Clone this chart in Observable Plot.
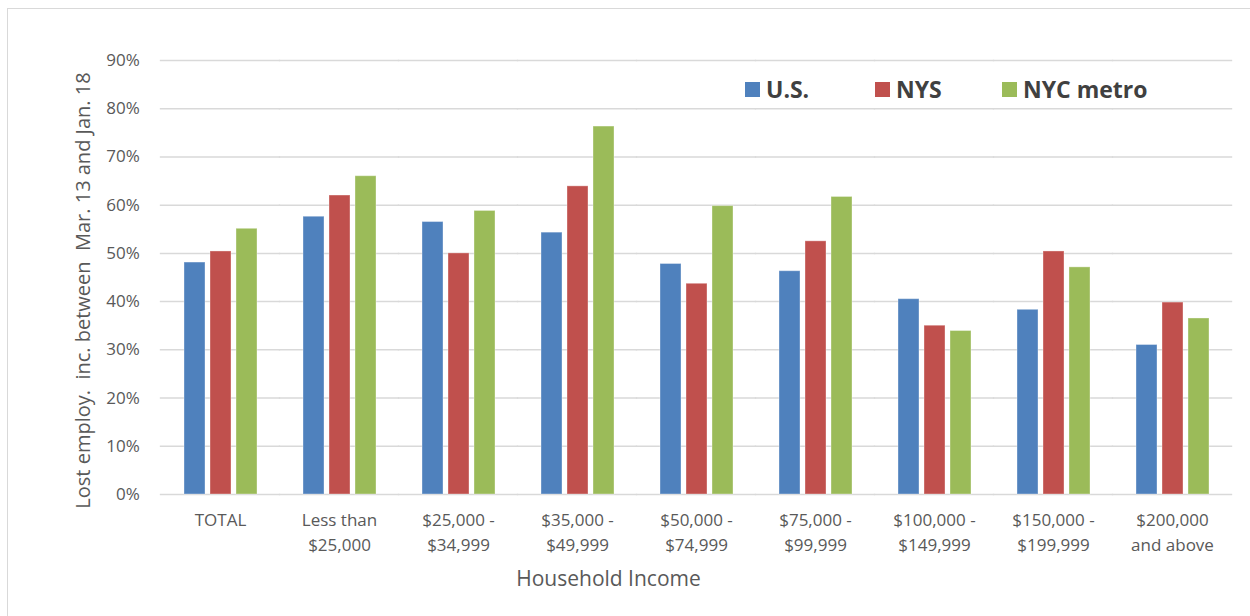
<!DOCTYPE html>
<html>
<head>
<meta charset="utf-8">
<script src="https://cdn.jsdelivr.net/npm/d3@7"></script>
<script src="https://cdn.jsdelivr.net/npm/@observablehq/plot@0.6"></script>
<style>
  html, body { margin: 0; padding: 0; background: #fff; overflow: hidden; }
  #wrap { position: relative; width: 1250px; height: 616px; font-family: "Open Sans", sans-serif; }
  #frame { position: absolute; left: 7px; top: 8px; width: 1400px; height: 800px; border: 1px solid #d9d9d9; box-sizing: border-box; pointer-events: none; }
  #legend { position: absolute; left: 745px; top: 73px; display: flex; align-items: center; }
  .item { display: flex; align-items: center; }
  .sw { width: 15px; height: 15px; margin-right: 6px; }
  .lab { font-weight: bold; font-size: 23px; color: #404040; }
  #chart { position: absolute; left: 0; top: 0; }
</style>
</head>
<body>
<div id="wrap">
  <div id="frame"></div>
  <div id="chart"></div>
  <div id="legend"></div>
</div>
<script>
const categories = [
  "TOTAL",
  "Less than\n$25,000",
  "$25,000 -\n$34,999",
  "$35,000 -\n$49,999",
  "$50,000 -\n$74,999",
  "$75,000 -\n$99,999",
  "$100,000 -\n$149,999",
  "$150,000 -\n$199,999",
  "$200,000\nand above"
];
const series = ["U.S.", "NYS", "NYC metro"];
const usValues  = [48.1, 57.6, 56.5, 54.3, 47.8, 46.3, 40.5, 38.3, 31.0];
const nysValues = [50.4, 62.0, 50.0, 63.9, 43.7, 52.5, 35.0, 50.4, 39.8];
const nycValues = [55.1, 66.0, 58.8, 76.3, 59.8, 61.7, 33.9, 47.1, 36.5];
const colors = ["#4F81BD", "#C0504D", "#9BBB59"];
const yTicks = [0, 10, 20, 30, 40, 50, 60, 70, 80, 90];
const yTitle = "Lost employ.\u00a0 inc. between\u00a0 Mar. 13 and Jan. 18";
const xTitle = "Household Income";

const seriesValues = [usValues, nysValues, nycValues];
const rows = [];
categories.forEach((c, i) => {
  series.forEach((s, j) => rows.push({category: c, series: s, value: seriesValues[j][i]}));
});

const W = 1250, ML = 158, MR = 17;
const step = (W - ML - MR) / categories.length;
const half = step * 0.19; // half the gap between facet groups

const chart = Plot.plot({
  width: W,
  height: 616,
  marginLeft: ML,
  marginRight: MR,
  marginTop: 60,
  marginBottom: 122,
  style: {fontFamily: "Open Sans, sans-serif", color: "#595959", background: "transparent"},
  fx: {domain: categories, paddingInner: 0.38, paddingOuter: 0.19, label: null},
  x: {domain: series, paddingInner: 0.2, paddingOuter: 0, axis: null},
  y: {domain: [0, 90]},
  color: {domain: series, range: colors},
  marks: [
    Plot.ruleY(yTicks, {stroke: "#d9d9d9", strokeWidth: 1.5, insetLeft: -half - 0.5, insetRight: -half - 0.5}),
    Plot.barY(rows, {fx: "category", x: "series", y: "value", fill: "series", stroke: "#ffffff", strokeOpacity: 0.35, strokeWidth: 1}),
    Plot.axisY({ticks: yTicks, tickFormat: d => d + "%", tickSize: 0, tickPadding: 21 + half, fontSize: 17, label: null}),
    Plot.axisFx({anchor: "bottom", tickSize: 0, tickPadding: 14, fontSize: 17, lineHeight: 1.47, label: null}),
    Plot.text([yTitle], {frameAnchor: "left", textAnchor: "middle", lineAnchor: "middle", rotate: -90, dx: -100, dy: 13, fontSize: 20, fill: "#595959", facet: "super"}),
    Plot.text([xTitle], {frameAnchor: "bottom", dx: -88, dy: 91, fontSize: 21, fill: "#595959", facet: "super"})
  ]
});
document.getElementById("chart").appendChild(chart);

const legend = document.getElementById("legend");
const color = chart.scale("color");
series.forEach((s, i) => {
  const item = document.createElement("div");
  item.className = "item";
  item.style.width = i < series.length - 1 ? (i === 0 ? "130px" : "127px") : "auto";
  const sw = document.createElement("div");
  sw.className = "sw";
  sw.style.background = color.range[i];
  const lab = document.createElement("span");
  lab.className = "lab";
  lab.textContent = s;
  item.appendChild(sw);
  item.appendChild(lab);
  legend.appendChild(item);
});
</script>
</body>
</html>
